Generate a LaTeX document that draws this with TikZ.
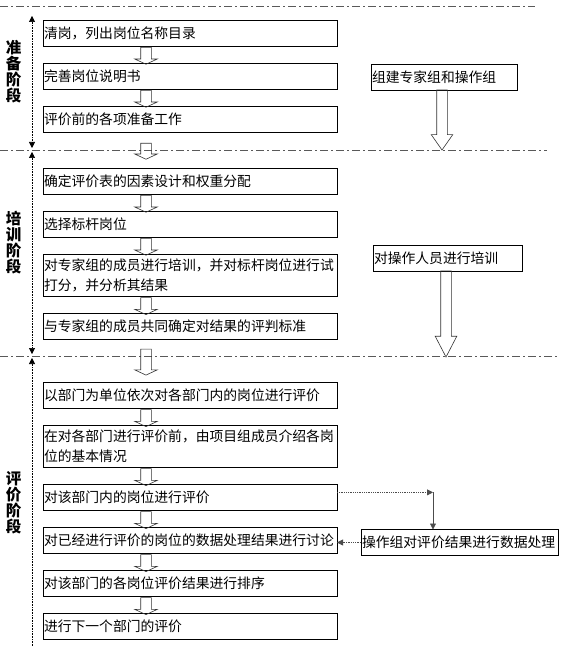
\documentclass[tikz,border=0pt]{standalone}
\usepackage{fontspec}
\setmainfont{Noto Sans CJK SC}
\usetikzlibrary{arrows.meta,positioning,shapes.arrows,calc}

\begin{document}
\begin{tikzpicture}[x=1pt, y=-1pt, node distance=17pt,
            every node/.style={font=\fontsize{13.8pt}{20pt}\selectfont},
            stepbox/.style={draw, line width=0.8pt, text width=292pt, inner xsep=1pt,
                inner ysep=4.6pt, minimum height=26pt, outer sep=0pt, align=left},
            sidebox/.style={stepbox, text width=#1},
            fatarrow/.style={single arrow, draw, line width=0.6pt, black!80, rotate=-90,
                inner sep=5pt, outer sep=0pt, single arrow head extend=6pt, single arrow tip angle=130,
                minimum height=#1},
            fatarrow/.default=17pt,
            bigarrow/.style={single arrow, draw, line width=0.6pt, black!80, rotate=-90,
                inner sep=5pt, outer sep=0pt, single arrow head extend=5.5pt, anchor=tail, minimum height=#1},
            phase/.style={draw, line width=0.8pt, gray!70!black,
                dash pattern=on 8pt off 3pt on 2pt off 3pt},
            timeline/.style={densely dotted, line width=0.6pt},
            stage/.style={font=\fontsize{15.5pt}{16pt}\selectfont\bfseries, align=center, inner sep=0pt},
            link/.style={densely dotted, line width=0.8pt, gray!60!black},
            tip/.style={-{Triangle[length=6pt,width=6pt]}}]
        \useasboundingbox (0,0) rectangle (566,647);

        % phase separators
        \draw[phase] (0,6) -- (535,6);
        \draw[phase] (0,150) -- (547,150);
        \draw[phase] (0,356) -- (557,356);

        % stages
        \node[stage] (prep) at (13.5,72) {准\\备\\阶\\段};
        \node[stage] (train) at (13.5,243) {培\\训\\阶\\段};
        \node[stage] (eval) at (13.5,503) {评\\价\\阶\\段};
        \coordinate (t0) at (32,16);
        \coordinate (t1) at (32,148);
        \coordinate (t2) at (32,152);
        \coordinate (t3) at (32,354);
        \coordinate (t4) at (32,358);
        \coordinate (t5) at (32,647);
        \draw[timeline, {Triangle[length=6pt,width=6pt]}-{Triangle[length=6pt,width=6pt]}] (t0) -- (t1);
        \draw[timeline, {Triangle[length=6pt,width=6pt]}-{Triangle[length=6pt,width=6pt]}] (t2) -- (t3);
        \draw[timeline, {Triangle[length=6pt,width=6pt]}-] (t4) -- (t5);

        % main steps
        \node[stepbox] (qing) at (190,33) {清岗，列出岗位名称目录};
        \node[stepbox, below=of qing] (shuoming) {完善岗位说明书};
        \node[stepbox, below=of shuoming] (zhunbei) {评价前的各项准备工作};
        \node[stepbox, below=36pt of zhunbei] (yinsu) {确定评价表的因素设计和权重分配};
        \node[stepbox, below=of yinsu] (biaogan) {选择标杆岗位};
        \node[stepbox, below=of biaogan] (peixun) {对专家组的成员进行培训，并对标杆岗位进行试\\打分，并分析其结果};
        \node[stepbox, below=of peixun] (biaozhun) {与专家组的成员共同确定对结果的评判标准};
        \node[stepbox, below=43pt of biaozhun] (bumen) {以部门为单位依次对各部门内的岗位进行评价};
        \node[stepbox, below=of bumen] (jieshao) {在对各部门进行评价前，由项目组成员介绍各岗\\位的基本情况};
        \node[stepbox, below=of jieshao] (pingjia) {对该部门内的岗位进行评价};
        \node[stepbox, below=of pingjia] (taolun) {对已经进行评价的岗位的数据处理结果进行讨论};
        \node[stepbox, below=of taolun] (paixu) {对该部门的各岗位评价结果进行排序};
        \node[stepbox, below=of paixu] (xiayige) {进行下一个部门的评价};

        % hollow arrows between steps
        \coordinate (ax) at (146,0);
        \foreach \a/\b in {qing/shuoming, shuoming/zhunbei, yinsu/biaogan, biaogan/peixun,
                peixun/biaozhun, bumen/jieshao, jieshao/pingjia, pingjia/taolun,
                taolun/paixu, paixu/xiayige}
            \path (\a.south -| ax) -- node[fatarrow] (d\a) {} (\b.north -| ax);
        \path (zhunbei.south -| ax) -- node[fatarrow=16pt] (dzhunbei) {} (yinsu.north -| ax);
        \path (biaozhun.south -| ax) -- node[fatarrow=26pt] (dbiaozhun) {} (bumen.north -| ax);

        % side tasks
        \node[sidebox=144pt] (zujian) at (444,77) {组建专家组和操作组};
        \node[sidebox=147pt] (caozuo) at (447.5,258) {对操作人员进行培训};
        \node[sidebox=195pt] (shuju) at (459.5,542.5) {操作组对评价结果进行数据处理};
        \node[bigarrow=60pt, single arrow tip angle=70] (azujian) at ([xshift=-2pt]zujian.south) {};
        \node[bigarrow=86pt, single arrow tip angle=55] (acaozuo) at ([xshift=-1.5pt]caozuo.south) {};

        \coordinate (tx) at (433,0);
        \draw[link, tip] ([yshift=5pt]pingjia.east) -- ([yshift=5pt]pingjia.east -| tx) coordinate (turn);
        \draw[line width=0.8pt, gray!60!black, tip] (turn) -- (turn |- shuju.north);
        \draw[link, tip] (shuju.west) -- (shuju.west -| taolun.east);
\end{tikzpicture}
\end{document}
